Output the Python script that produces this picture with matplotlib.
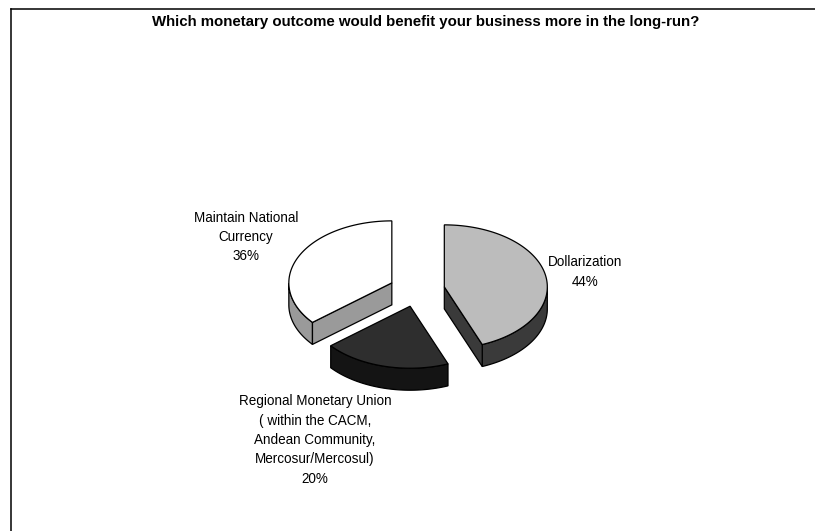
import matplotlib
matplotlib.use("Agg")
import matplotlib.pyplot as plt
from matplotlib.patches import Polygon
import numpy as np

plt.rcParams['font.family'] = ['Liberation Sans', 'DejaVu Sans']

# survey shares, drawn clockwise from 12 o'clock
labels = ["Dollarization", "Regional Monetary Union\n( within the CACM,\nAndean Community,\nMercosur/Mercosul)",
          "Maintain National\nCurrency"]
shares = [44, 20, 36]
top_colors = ["#bcbcbc", "#2e2e2e", "#ffffff"]
side_colors = ["#3a3a3a", "#141414", "#9a9a9a"]
label_pos = [(585, 272), (315, 440), (246, 237)]

title = "Which monetary outcome would benefit your business more in the long-run?"

W, H = 815, 531
fig = plt.figure(figsize=(W / 100, H / 100), dpi=100)
ax = fig.add_axes([0, 0, 1, 1])
ax.set_xlim(0, W)
ax.set_ylim(H, 0)
ax.axis('off')

# pie geometry in pixels
cx, cy = 417, 290
a, b = 103, 62
depth = 22
explode = 0.27


def proj(x0, y0, ang, r=1.0, z=0.0):
    t = np.radians(ang)
    return x0 + a * r * np.cos(t), y0 - b * r * np.sin(t) + z


def draw_slice(start, end, top_c, side_c):
    mid = (start + end) / 2
    ox, oy = proj(cx, cy, mid, explode)
    lw = 0.9
    # outer wall, only the part that faces front (sin < 0)
    angs = np.linspace(start, end, 200)
    vis = angs[np.sin(np.radians(angs)) < 0]
    if len(vis) > 1:
        topx, topy = proj(ox, oy, vis)
        pts = list(zip(topx, topy)) + list(zip(topx[::-1], topy[::-1] + depth))
        ax.add_patch(Polygon(pts, closed=True, fc=side_c, ec='black', lw=lw, zorder=2))
    # radial faces
    for ang, nrm in [(start, start + 90), (end, end - 90)]:
        if np.sin(np.radians(nrm)) < -1e-6:
            px, py = proj(ox, oy, ang)
            pts = [(ox, oy), (px, py), (px, py + depth), (ox, oy + depth)]
            ax.add_patch(Polygon(pts, closed=True, fc=side_c, ec='black', lw=lw, zorder=2))
    # top face
    tx, ty = proj(ox, oy, angs)
    pts = [(ox, oy)] + list(zip(tx, ty))
    ax.add_patch(Polygon(pts, closed=True, fc=top_c, ec='black', lw=lw, zorder=3))


total = sum(shares)
ang0 = 90.0
for val, tc, sc in zip(shares, top_colors, side_colors):
    ang1 = ang0 - 360.0 * val / total
    draw_slice(ang0, ang1, tc, sc)
    ang0 = ang1

for lab, val, (lx, ly) in zip(labels, shares, label_pos):
    ax.text(lx, ly, f"{lab}\n{val}%", ha='center', va='center', fontsize=9.75,
            linespacing=1.48, color='black')

ax.text(426, 22, title, ha='center', va='center', fontsize=10.8, fontweight='bold')

# chart frame (top and left edges)
ax.plot([11, W], [9, 9], color='black', lw=1.1, clip_on=False)
ax.plot([11, 11], [9, H], color='black', lw=1.1, clip_on=False)

fig.savefig("out.png", dpi=100)
